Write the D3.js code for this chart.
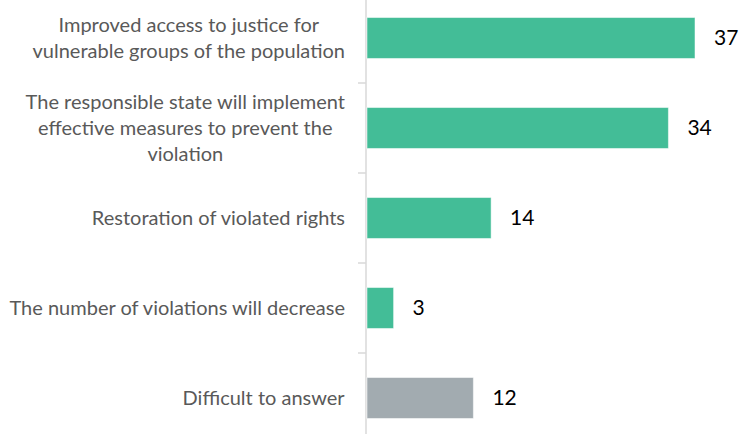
<!DOCTYPE html>
<html>
<head>
<meta charset="utf-8">
<script src="https://cdn.jsdelivr.net/npm/d3@7"></script>
<style>
  body { margin: 0; background: #fff; }
  svg { display: block; }
</style>
</head>
<body>
<div id="chart"></div>
<script>
// Data
const categories = [
    ["Improved access to justice for", "vulnerable groups of the population"],
    ["The responsible state will implement", "effective measures to prevent the", "violation"],
    ["Restoration of violated rights"],
    ["The number of violations will decrease"],
    ["Difficult to answer"]
];
const values = [37, 34, 14, 3, 12];
const barColors = ["#43bd97", "#43bd97", "#43bd97", "#43bd97", "#a2abb0"];

const width = 742, height = 434;
const axisX = 366;

const svg = d3.select("#chart")
    .append("svg")
    .attr("width", width)
    .attr("height", height);

const keys = categories.map((d, i) => i);

const y = d3.scaleBand()
    .domain(keys)
    .range([-7, 443])
    .paddingInner(0.545)
    .paddingOuter(0.2725);

const x = d3.scaleLinear()
    .domain([0, 37])
    .range([axisX + 1, 695]);

// Axis line
svg.append("line")
    .attr("x1", axisX).attr("x2", axisX)
    .attr("y1", 0).attr("y2", height)
    .attr("stroke", "#d9d9d9")
    .attr("stroke-width", 1.5);

// tick marks between categories
const step = y.step();
const boundaries = keys.slice(1).map(k => y(k) - step * y.paddingInner() / 2);
svg.selectAll("line.tick")
    .data(boundaries)
    .join("line")
    .classed("tick", true)
    .attr("x1", axisX - 8).attr("x2", axisX)
    .attr("y1", d => d).attr("y2", d => d)
    .attr("stroke", "#d9d9d9")
    .attr("stroke-width", 1.5);

// Bars
svg.selectAll("rect.data")
    .data(values)
    .join("rect")
    .classed("data", true)
    .attr("x", x(0))
    .attr("y", (d, i) => y(i))
    .attr("width", d => x(d) - x(0))
    .attr("height", y.bandwidth())
    .attr("fill", (d, i) => barColors[i])
    .attr("stroke", "#ffffff")
    .attr("stroke-opacity", 0.5)
    .attr("stroke-width", 1);

// Value labels
svg.selectAll("text.value")
    .data(values)
    .join("text")
    .classed("value", true)
    .attr("x", d => x(d) + 19)
    .attr("y", (d, i) => y(i) + y.bandwidth() / 2)
    .attr("dy", "0.35em")
    .style("font-family", "Lato, 'Open Sans', sans-serif")
    .style("font-size", "21px")
    .style("fill", "#000")
    .text(d => d);

// Category labels (centred lines, widest line ends near the axis)
const lineH = 26;
const labels = svg.selectAll("g.label")
    .data(categories)
    .join("g")
    .classed("label", true);

labels.each(function (lines, i) {
    const g = d3.select(this);
    const cy = y(i) + y.bandwidth() / 2;
    const t = g.append("text")
        .style("font-family", "Lato, 'Open Sans', sans-serif")
        .style("font-size", "20px")
        .style("fill", "#595959")
        .attr("text-anchor", "middle");
    lines.forEach((ln, j) => {
        t.append("tspan")
            .attr("x", 0)
            .attr("y", cy + (j - (lines.length - 1) / 2) * lineH)
            .attr("dy", "0.35em")
            .text(ln);
    });
    const w = t.node().getBBox().width;
    t.attr("transform", "translate(" + (345 - w / 2) + ",0)");
});
</script>
</body>
</html>
